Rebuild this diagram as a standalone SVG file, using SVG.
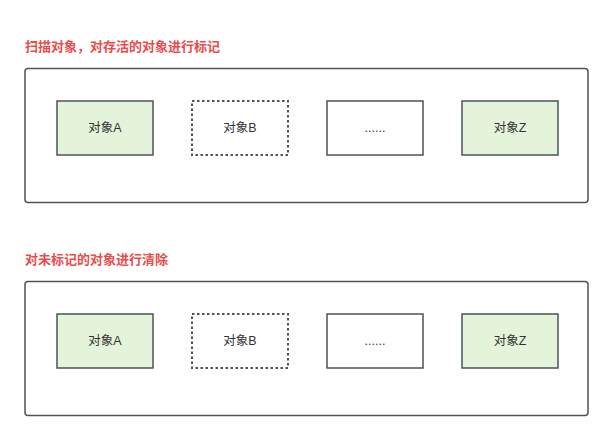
<svg xmlns="http://www.w3.org/2000/svg" width="613" height="441" viewBox="0 0 613 441">
<style>
.title{font-family:"Liberation Sans","Noto Sans CJK SC",sans-serif;font-size:13px;font-weight:bold;fill:#ea4b4b}
.frame{fill:#ffffff;stroke:#4d5358;stroke-width:1.5}
.box{stroke:#4d5358;stroke-width:1.5}
.live{fill:#e4f4da}
.plain{fill:#ffffff}
.dash{fill:#ffffff;stroke-width:2;stroke-dasharray:2.5 2.5}
.lbl{font-family:"Liberation Sans","Noto Sans CJK SC",sans-serif;font-size:12.5px;fill:#333333;text-anchor:middle;dominant-baseline:central}
</style>
<rect width="613" height="441" fill="#ffffff"/>
<text class="title" x="25" y="51">扫描对象，对存活的对象进行标记</text>
<text class="title" x="25" y="264">对未标记的对象进行清除</text>
<g id="frame1"><rect class="frame" x="25" y="68.5" width="563" height="134" rx="3"/></g>
<g id="frame2"><rect class="frame" x="25" y="281.5" width="563" height="134" rx="3"/></g>
<g id="a1"><rect class="box live" x="57" y="101" width="96" height="54"/><text class="lbl" x="105" y="128">对象A</text></g>
<g id="b1"><rect class="box dash" x="192" y="101" width="96" height="54"/><text class="lbl" x="240" y="128">对象B</text></g>
<g id="dots1"><rect class="box plain" x="327" y="101" width="96" height="54"/><text class="lbl" x="375" y="128">......</text></g>
<g id="z1"><rect class="box live" x="462" y="101" width="96" height="54"/><text class="lbl" x="510" y="128">对象Z</text></g>
<g id="a2"><rect class="box live" x="57" y="314" width="96" height="54"/><text class="lbl" x="105" y="341">对象A</text></g>
<g id="b2"><rect class="box dash" x="192" y="314" width="96" height="54"/><text class="lbl" x="240" y="341">对象B</text></g>
<g id="dots2"><rect class="box plain" x="327" y="314" width="96" height="54"/><text class="lbl" x="375" y="341">......</text></g>
<g id="z2"><rect class="box live" x="462" y="314" width="96" height="54"/><text class="lbl" x="510" y="341">对象Z</text></g>
<g id="connectors"></g>
</svg>
